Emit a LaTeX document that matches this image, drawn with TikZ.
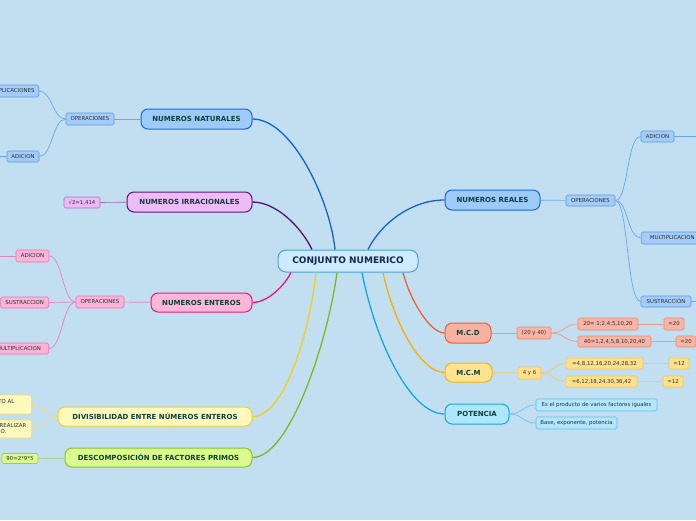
\documentclass[tikz,border=0pt]{standalone}
\usepackage{fontspec}
\setmainfont{DejaVu Sans}
\definecolor{bg}{HTML}{C2DEF1}
\definecolor{rootfill}{HTML}{CDEBFC}
\definecolor{rootdraw}{HTML}{4AA2DA}
\definecolor{roottxt}{HTML}{13294B}
\definecolor{maintxt}{HTML}{10403A}
\definecolor{leaftxt}{HTML}{2A2F38}
\definecolor{bluefill}{HTML}{9DCAF8}
\definecolor{bluedraw}{HTML}{1B68D0}
\definecolor{bluesubfill}{HTML}{A5CBF7}
\definecolor{bluesubdraw}{HTML}{5A9BE6}
\definecolor{bluetwig}{HTML}{6AA6EA}
\definecolor{purfill}{HTML}{EDBBF7}
\definecolor{purdraw}{HTML}{5B1A6E}
\definecolor{pursubfill}{HTML}{EBB9F3}
\definecolor{pursubdraw}{HTML}{B070C8}
\definecolor{purtwig}{HTML}{9A6AB0}
\definecolor{pinkfill}{HTML}{FDB6D6}
\definecolor{pinkdraw}{HTML}{EA1A80}
\definecolor{pinksubfill}{HTML}{FAB4D6}
\definecolor{pinksubdraw}{HTML}{E878B4}
\definecolor{pinktwig}{HTML}{E882BC}
\definecolor{yelfill}{HTML}{FFF9BC}
\definecolor{yeldraw}{HTML}{F2D426}
\definecolor{yelsubdraw}{HTML}{F0DC60}
\definecolor{yeltwig}{HTML}{EEDD80}
\definecolor{grnfill}{HTML}{D9FA8C}
\definecolor{grndraw}{HTML}{8CC22C}
\definecolor{grnsubdraw}{HTML}{A0D040}
\definecolor{grntwig}{HTML}{A8D060}
\definecolor{salfill}{HTML}{F9B2A2}
\definecolor{saldraw}{HTML}{EE5E3C}
\definecolor{salsubfill}{HTML}{F8B4A4}
\definecolor{salsubdraw}{HTML}{EC8C78}
\definecolor{saltwig}{HTML}{EE9A88}
\definecolor{orgfill}{HTML}{FFE38E}
\definecolor{orgdraw}{HTML}{F8B410}
\definecolor{orgsubfill}{HTML}{FFE08C}
\definecolor{orgsubdraw}{HTML}{F4C850}
\definecolor{orgtwig}{HTML}{F4CC6A}
\definecolor{cyafill}{HTML}{AEE6FB}
\definecolor{cyadraw}{HTML}{16A6E6}
\definecolor{cyasubfill}{HTML}{B4E6FB}
\definecolor{cyasubdraw}{HTML}{60BDEB}
\definecolor{cyatwig}{HTML}{6CC4F0}
\definecolor{cBlue}{HTML}{1262D4}
\definecolor{cPurple}{HTML}{5A1070}
\definecolor{cPink}{HTML}{EA1480}
\definecolor{cYellow}{HTML}{F0D014}
\definecolor{cGreen}{HTML}{80B822}
\definecolor{cCyan}{HTML}{12A8E8}
\definecolor{cOrange}{HTML}{F8B000}
\definecolor{cRed}{HTML}{F06030}
\begin{document}
\begin{tikzpicture}[x=1pt,y=-1pt,
  mainbox/.style={draw, line width=1pt, rounded corners=7pt, inner sep=0pt,
    minimum height=20pt, font=\fontsize{7}{8}\selectfont\bfseries, text=maintxt},
  subbox/.style={draw, line width=0.6pt, rounded corners=1.5pt, inner sep=0pt,
    minimum height=11.5pt, font=\fontsize{5.4}{6}\selectfont, text=leaftxt},
  leaftext/.style={inner sep=0pt, font=\fontsize{5.4}{6}\selectfont, text=leaftxt},
  trunk/.style={line width=1.3pt},
  twig/.style={line width=0.7pt},
  bsub/.style={subbox, fill=bluesubfill, draw=bluesubdraw},
  psub/.style={subbox, fill=pinksubfill, draw=pinksubdraw},
  usub/.style={subbox, fill=pursubfill, draw=pursubdraw},
  ysub/.style={subbox, fill=yelfill, draw=yelsubdraw},
  gsub/.style={subbox, fill=grnfill, draw=grnsubdraw},
  ssub/.style={subbox, fill=salsubfill, draw=salsubdraw},
  osub/.style={subbox, fill=orgsubfill, draw=orgsubdraw},
  csub/.style={subbox, fill=cyasubfill, draw=cyasubdraw},
]
\useasboundingbox (0,0) rectangle (696,520);
\fill[bg] (0,0) rectangle (696,520);
\clip (0,0) rectangle (696,520);

% root
\node[mainbox, fill=rootfill, draw=rootdraw, minimum width=140pt, minimum height=22pt,
  rounded corners=8pt, font=\fontsize{9}{10}\selectfont\bfseries, text=roottxt] (root) at (348,261) {CONJUNTO NUMERICO};

% main branches
\node[mainbox, fill=bluefill, draw=bluedraw, minimum width=111pt] (nat) at (196.5,119) {NUMEROS NATURALES};
\node[mainbox, fill=purfill, draw=purdraw, minimum width=125pt] (irr) at (189.5,202) {NUMEROS IRRACIONALES};
\node[mainbox, fill=pinkfill, draw=pinkdraw, minimum width=101pt, minimum height=19pt] (ent) at (201.5,302.5) {NUMEROS ENTEROS};
\node[mainbox, fill=yelfill, draw=yeldraw, minimum width=194pt, minimum height=19pt] (div) at (155,416.5) {DIVISIBILIDAD ENTRE NÚMEROS ENTEROS};
\node[mainbox, fill=grnfill, draw=grndraw, minimum width=187pt, minimum height=19pt] (desc) at (158.5,457.5) {DESCOMPOSICIÓN DE FACTORES PRIMOS};
\node[mainbox, fill=bluefill, draw=bluedraw, minimum width=95pt] (real) at (492.5,200) {NUMEROS REALES};
\node[mainbox, fill=salfill, draw=saldraw, minimum width=46pt] (mcd) at (468,333) {M.C.D};
\node[mainbox, fill=orgfill, draw=orgdraw, minimum width=47pt, minimum height=19pt] (mcm) at (468.5,372.5) {M.C.M};
\node[mainbox, fill=cyafill, draw=cyadraw, minimum width=64pt] (pot) at (477,414) {POTENCIA};

% trunk connectors
\draw[trunk, cBlue] ([xshift=-13pt]root.north) .. controls (330,200) and (292,119) .. (nat.east);
\draw[trunk, cPurple] ([xshift=-36pt]root.north) .. controls (300,225) and (275,202) .. (irr.east);
\draw[trunk, cBlue] ([xshift=20pt]root.north) .. controls (380,225) and (410,200) .. (real.west);
\draw[trunk, cPink] ([xshift=-57pt]root.south) .. controls (285,285) and (268,302.5) .. (ent.east);
\draw[trunk, cYellow] ([xshift=-32pt]root.south) .. controls (310,330) and (285,416.5) .. (div.east);
\draw[trunk, cGreen] ([xshift=-11pt]root.south) .. controls (328,340) and (290,457.5) .. (desc.east);
\draw[trunk, cCyan] ([xshift=14pt]root.south) .. controls (375,340) and (410,414) .. (pot.west);
\draw[trunk, cOrange] ([xshift=35pt]root.south) .. controls (393,320) and (420,372.5) .. (mcm.west);
\draw[trunk, cRed] ([xshift=55pt]root.south) .. controls (410,300) and (430,333) .. (mcd.west);

% NUMEROS NATURALES children
\node[bsub, minimum width=48pt, minimum height=12pt] (opn) at (90,119) {OPERACIONES};
\node[bsub, minimum width=60pt, minimum height=12pt, anchor=east] (mul1) at (39,91) {MULTIPLICACIONES};
\node[bsub, minimum width=32pt, minimum height=11pt] (adi1) at (23,156.5) {ADICION};
\coordinate (x1) at (-12,156.5);
\draw[twig, bluetwig] (opn) -- (nat);
\draw[twig, bluetwig] (opn.west) .. controls +(-13,0) and +(13,0) .. (mul1.east);
\draw[twig, bluetwig] (opn.west) .. controls +(-13,0) and +(13,0) .. (adi1.east);
\draw[twig, bluetwig] (adi1.west) -- (x1);

% IRRACIONALES
\node[usub, minimum width=36pt, minimum height=11pt] (sq) at (82,202.5) {√2=1,414};
\draw[twig, purtwig] (sq) -- (irr);

% ENTEROS
\node[psub, minimum width=48pt, minimum height=12pt] (ope) at (100,302) {OPERACIONES};
\node[psub, minimum width=33pt, minimum height=12pt] (adi2) at (32.5,256) {ADICION};
\node[psub, minimum width=48pt, minimum height=11pt, anchor=east] (sus2) at (49,302.5) {SUSTRACCION};
\node[psub, minimum width=60pt, minimum height=11pt, anchor=east] (mul2) at (49,348.5) {MULTIPLICACION};
\coordinate (x2) at (-12,256);
\draw[twig, pinktwig] (ope) -- (ent);
\draw[twig, pinktwig] (ope.west) .. controls +(-13,0) and +(13,0) .. (adi2.east);
\draw[twig, pinktwig] (ope.west) -- (sus2.east);
\draw[twig, pinktwig] (ope.west) .. controls +(-13,0) and +(13,0) .. (mul2.east);
\draw[twig, pinktwig] (adi2.west) -- (x2);

% DIVISIBILIDAD
\node[ysub, minimum width=60pt, minimum height=19pt, anchor=east] (d1) at (32,404.5) {};
\node[ysub, minimum width=60pt, minimum height=18pt, anchor=east] (d2) at (32,429) {};
\node[leaftext, anchor=east] (d1t) at (14.5,402) {TO AL};
\node[leaftext, anchor=east] (d2t) at (26.5,426) {REALIZAR};
\node[leaftext, anchor=east] (d2u) at (6.5,432) {O.};
\draw[twig, yeltwig] (div.west) .. controls +(-13,0) and +(13,0) .. (d1.east);
\draw[twig, yeltwig] (div.west) .. controls +(-13,0) and +(13,0) .. (d2.east);

% DESCOMPOSICION
\node[gsub, minimum width=36pt, minimum height=10pt] (fac) at (20,458.5) {90=2*9*5};
\draw[twig, grntwig] (fac) -- (desc);

% NUMEROS REALES
\node[bsub, minimum width=49pt, minimum height=11pt] (opr) at (590.5,200.5) {OPERACIONES};
\node[bsub, minimum width=33pt, minimum height=11pt] (adi3) at (657.5,136.5) {ADICION};
\node[bsub, minimum width=62pt, minimum height=12pt, anchor=west] (mul3) at (641,238) {MULTIPLICACION};
\node[bsub, minimum width=50pt, minimum height=11pt] (sus3) at (666,301.5) {SUSTRACCIÓN};
\coordinate (x3) at (710,136.5);
\coordinate (x4) at (710,301.5);
\draw[twig, bluetwig] (real) -- (opr);
\draw[twig, bluetwig] (opr.east) .. controls +(13,0) and +(-14,0) .. (adi3.west);
\draw[twig, bluetwig] (opr.east) .. controls +(13,0) and +(-14,0) .. (mul3.west);
\draw[twig, bluetwig] (opr.east) .. controls +(13,0) and +(-14,0) .. (sus3.west);
\draw[twig, bluetwig] (adi3.east) -- (x3);
\draw[twig, bluetwig] (sus3.east) -- (x4);

% M.C.D
\node[ssub, minimum width=34pt, minimum height=12pt] (c1) at (534,333) {(20 y 40)};
\node[ssub, minimum width=60pt, minimum height=12pt] (c2) at (608,324) {20= 1;2,4,5,10,20};
\node[ssub, minimum width=20pt, minimum height=12pt] (c3) at (674,324) {=20};
\node[ssub, minimum width=73pt, minimum height=11pt] (c4) at (614.5,341.5) {40=1,2,4,5,8,10,20,40};
\node[ssub, minimum width=20pt, minimum height=11pt] (c5) at (686,341.5) {=20};
\draw[twig, saltwig] (mcd) -- (c1);
\draw[twig, saltwig] (c1.east) .. controls +(13,0) and +(-13,0) .. (c2.west);
\draw[twig, saltwig] (c1.east) .. controls +(13,0) and +(-13,0) .. (c4.west);
\draw[twig, saltwig] (c2) -- (c3);
\draw[twig, saltwig] (c4) -- (c5);

% M.C.M
\node[osub, minimum width=23pt, minimum height=12pt] (m1) at (529.5,373) {4 y 6};
\node[osub, minimum width=77pt, minimum height=11pt] (m2) at (604.5,363.5) {=4,8,12,16,20,24,28,32};
\node[osub, minimum width=20pt, minimum height=11pt] (m3) at (679,363.5) {=12};
\node[osub, minimum width=71pt, minimum height=11pt] (m4) at (601.5,381.5) {=6,12,18,24,30,36,42};
\node[osub, minimum width=20pt, minimum height=11pt] (m5) at (673,381.5) {=12};
\draw[twig, orgtwig] (mcm) -- (m1);
\draw[twig, orgtwig] (m1.east) .. controls +(12,0) and +(-12,0) .. (m2.west);
\draw[twig, orgtwig] (m1.east) .. controls +(12,0) and +(-12,0) .. (m4.west);
\draw[twig, orgtwig] (m2) -- (m3);
\draw[twig, orgtwig] (m4) -- (m5);

% POTENCIA
\node[csub, minimum width=121pt, minimum height=12pt] (p1) at (596.5,405) {Es el producto de varios factores iguales};
\node[csub, minimum width=81pt, minimum height=12pt] (p2) at (576.5,423) {Base, exponente, potencia};
\draw[twig, cyatwig] (pot.east) .. controls +(13,0) and +(-13,0) .. (p1.west);
\draw[twig, cyatwig] (pot.east) .. controls +(13,0) and +(-13,0) .. (p2.west);
\end{tikzpicture}
\end{document}
